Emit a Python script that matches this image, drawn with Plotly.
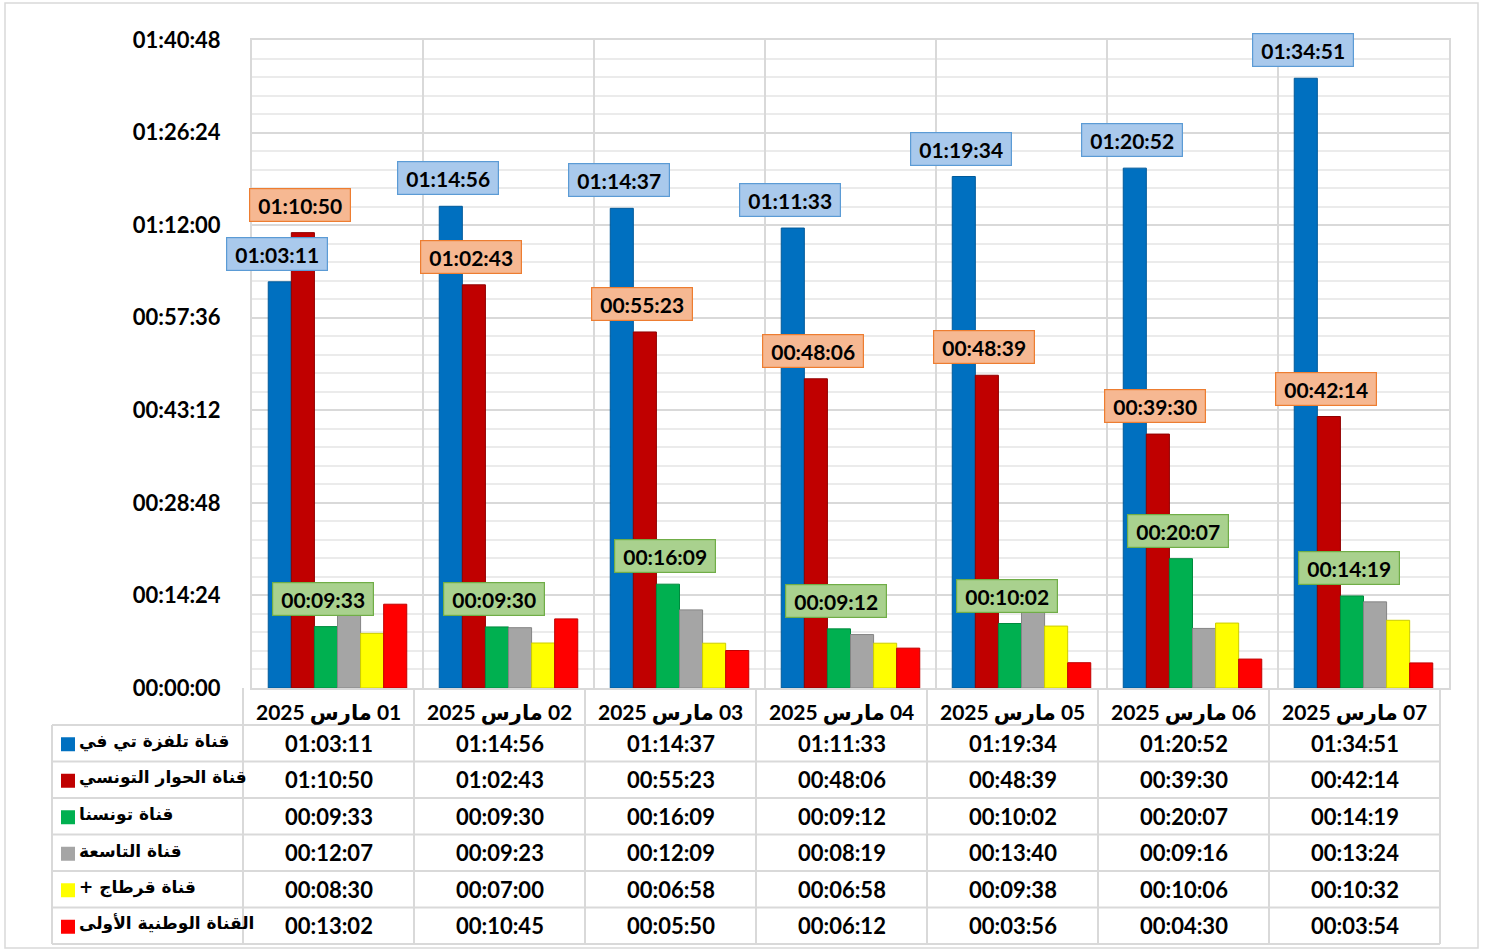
import plotly.graph_objects as go

# ---------------- data ----------------
categories = ["01 مارس 2025", "02 مارس 2025", "03 مارس 2025", "04 مارس 2025",
              "05 مارس 2025", "06 مارس 2025", "07 مارس 2025"]

series_names = ["قناة تلفزة تي في", "قناة الحوار التونسي", "قناة تونسنا",
                "قناة التاسعة", "قناة قرطاج +", "القناة الوطنية الأولى"]

tv_telvza = ["01:03:11", "01:14:56", "01:14:37", "01:11:33", "01:19:34", "01:20:52", "01:34:51"]
hiwar = ["01:10:50", "01:02:43", "00:55:23", "00:48:06", "00:48:39", "00:39:30", "00:42:14"]
tounesna = ["00:09:33", "00:09:30", "00:16:09", "00:09:12", "00:10:02", "00:20:07", "00:14:19"]
attessia = ["00:12:07", "00:09:23", "00:12:09", "00:08:19", "00:13:40", "00:09:16", "00:13:24"]
carthage = ["00:08:30", "00:07:00", "00:06:58", "00:06:58", "00:09:38", "00:10:06", "00:10:32"]
wataniya = ["00:13:02", "00:10:45", "00:05:50", "00:06:12", "00:03:56", "00:04:30", "00:03:54"]

y_tick_labels = ["00:00:00", "00:14:24", "00:28:48", "00:43:12", "00:57:36",
                 "01:12:00", "01:26:24", "01:40:48"]

all_series = [tv_telvza, hiwar, tounesna, attessia, carthage, wataniya]
colors = ["#0070C0", "#C00000", "#00B050", "#A5A5A5", "#FFFF00", "#FF0000"]
edge_colors = ["#005A9A", "#900000", "#008A3E", "#858585", "#CCCC00", "#C00000"]
label_styles = {0: ("#A9C9EC", "#5B9BD5"), 1: ("#F6B892", "#ED7D31"), 2: ("#A9D18E", "#70AD47")}


def to_s(t):
    h, m, s = map(int, t.split(":"))
    return h * 3600 + m * 60 + s


W, H = 1488, 950
FONT = "Lato, DejaVu Sans, sans-serif"
AR_FONT = "DejaVu Sans, sans-serif"


def px(x):
    return x / W


def py(y):
    return 1 - y / H


# plot area geometry (pixels)
PL, PR = 252, 1449
P_BOTTOM, P_TOP = 688, 40
# table geometry (pixels)
T_LEFT, T_COL0, T_RIGHT = 52, 243, 1440
T_TOP, T_ROW_H = 725, 36.5

n_cat = len(categories)
n_ser = len(all_series)
bargap = 0.19

fig = go.Figure()
for name, vals, c, ec in zip(series_names, all_series, colors, edge_colors):
    fig.add_trace(go.Bar(
        x=categories, y=[to_s(v) for v in vals], name=name,
        marker=dict(color=c, line=dict(color=ec, width=1)),
        showlegend=False,
        customdata=vals, hovertemplate="%{x}<br>" + name + ": %{customdata}<extra></extra>",
    ))

annotations = []
# data labels
cat_px = (PR - PL) / n_cat
bar_w = cat_px * (1 - bargap) / n_ser
for si, (fill, border) in label_styles.items():
    vals = all_series[si]
    for ci, cat in enumerate(categories):
        annotations.append(dict(
            x=cat, y=to_s(vals[ci]), xref="x", yref="y",
            text="<b>" + vals[ci] + "</b>", showarrow=False,
            xanchor="center", yanchor="bottom",
            xshift=(si - (n_ser - 1) / 2) * bar_w - 3, yshift=11,
            bgcolor=fill, bordercolor=border, borderwidth=1.2, borderpad=4,
            width=92, height=24,
            font=dict(family=FONT, size=21, color="#000000"),
        ))

shapes = []
# outer chart border
shapes.append(dict(type="rect", xref="paper", yref="paper",
                   x0=px(5), x1=px(1478), y0=py(948), y1=py(3),
                   line=dict(color="#D9D9D9", width=1.5)))

# table lines
col_w = (T_RIGHT - T_COL0) / n_cat
n_rows = n_ser
for r in range(n_rows + 1):
    yy = T_TOP + r * T_ROW_H
    shapes.append(dict(type="line", xref="paper", yref="paper",
                       x0=px(T_LEFT), x1=px(T_RIGHT), y0=py(yy), y1=py(yy),
                       line=dict(color="#D9D9D9", width=2)))
t_bottom = T_TOP + n_rows * T_ROW_H
shapes.append(dict(type="line", xref="paper", yref="paper",
                   x0=px(T_LEFT), x1=px(T_LEFT), y0=py(T_TOP), y1=py(t_bottom),
                   line=dict(color="#D9D9D9", width=2)))
for k in range(n_cat + 1):
    xx = T_COL0 + k * col_w
    shapes.append(dict(type="line", xref="paper", yref="paper",
                       x0=px(xx), x1=px(xx), y0=py(P_BOTTOM), y1=py(t_bottom),
                       line=dict(color="#D9D9D9", width=2)))

# header (category) labels
for k, cat in enumerate(categories):
    annotations.append(dict(
        x=px(T_COL0 + (k + 0.5) * col_w), y=py(712), xref="paper", yref="paper",
        text="<b>\u202b" + cat + "\u202c</b>", showarrow=False,
        xanchor="center", yanchor="middle",
        font=dict(family=FONT, size=21, color="#000000"),
    ))

# table rows
for r, (name, vals, c) in enumerate(zip(series_names, all_series, colors)):
    yc = T_TOP + (r + 0.5) * T_ROW_H
    shapes.append(dict(type="rect", xref="paper", yref="paper",
                       x0=px(61), x1=px(75), y0=py(yc + 8), y1=py(yc - 6),
                       fillcolor=c, line=dict(width=0)))
    annotations.append(dict(
        x=px(77), y=py(yc - 2), xref="paper", yref="paper",
        text="<b>\u202b" + name + "\u202c</b>", showarrow=False,
        xanchor="left", yanchor="middle",
        font=dict(family=AR_FONT, size=17, color="#000000"),
    ))
    for k, v in enumerate(vals):
        annotations.append(dict(
            x=px(T_COL0 + (k + 0.5) * col_w), y=py(yc), xref="paper", yref="paper",
            text="<b>" + v + "</b>", showarrow=False,
            xanchor="center", yanchor="middle",
            font=dict(family=FONT, size=22, color="#000000"),
        ))

fig.update_layout(
    width=W, height=H, autosize=False,
    margin=dict(l=0, r=0, t=0, b=0, pad=0),
    paper_bgcolor="white", plot_bgcolor="white",
    barmode="group", bargap=bargap, bargroupgap=0,
    font=dict(family=FONT, color="#000000"),
    xaxis=dict(
        domain=[px(PL), px(PR)], type="category", tickson="boundaries",
        range=[-0.5, n_cat - 0.5], autorange=False,
        showticklabels=False, ticks="", showgrid=True, gridcolor="#D9D9D9", gridwidth=2,
        showline=True, linecolor="#D9D9D9", linewidth=2, mirror=True, zeroline=False,
        fixedrange=True, automargin=False,
    ),
    yaxis=dict(
        domain=[py(P_BOTTOM), py(P_TOP)], range=[0, to_s(y_tick_labels[-1])], autorange=False,
        tickmode="array", tickvals=[to_s(t) for t in y_tick_labels],
        ticktext=["<b>" + t + "</b>" for t in y_tick_labels],
        tickfont=dict(family=FONT, size=22, color="#000000"),
        ticklabelstandoff=25,
        showgrid=True, gridcolor="#D9D9D9", gridwidth=2,
        minor=dict(dtick=to_s(y_tick_labels[1]) / 5, showgrid=True, gridcolor="#EBEBEB", gridwidth=1.5),
        showline=True, linecolor="#D9D9D9", linewidth=2, mirror=True, zeroline=False,
        fixedrange=True, automargin=False,
    ),
    shapes=shapes, annotations=annotations,
)

fig.write_html("out.html", config={"displayModeBar": False},
               post_script="document.body.style.margin='0';")
